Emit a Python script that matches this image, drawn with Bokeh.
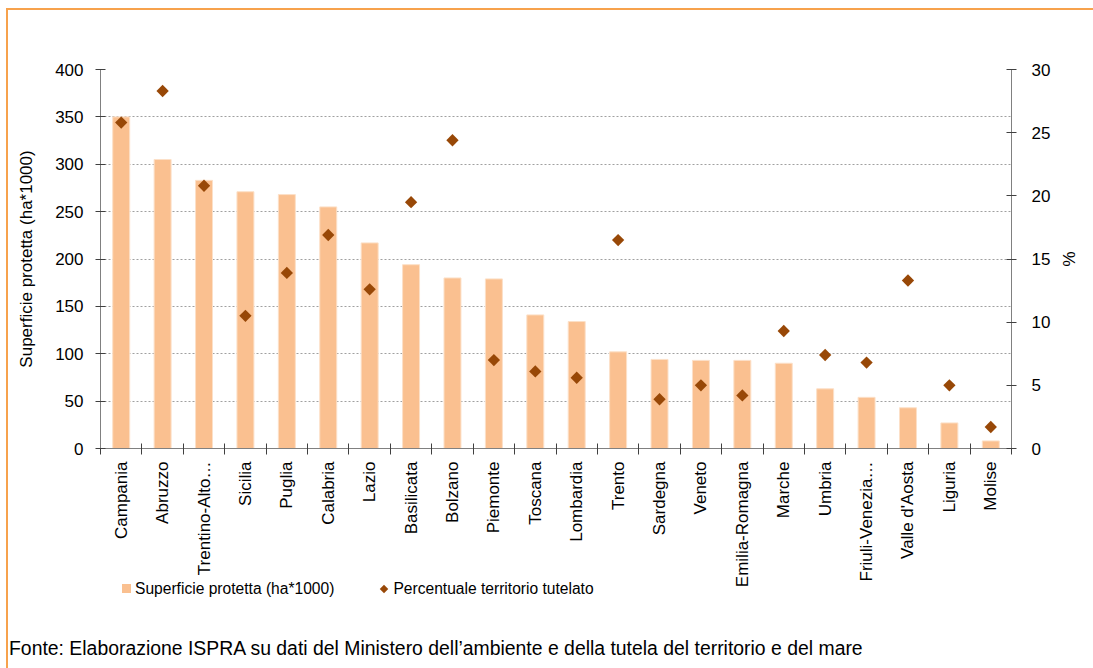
import math
import numpy as np
from bokeh.plotting import figure
from bokeh.layouts import column
from bokeh.models import (Range1d, LinearAxis, FixedTicker, CustomJSTickFormatter, Div)
from bokeh.embed import file_html
from bokeh.resources import INLINE

regions = ["Campania", "Abruzzo", "Trentino-Alto…", "Sicilia", "Puglia", "Calabria",
           "Lazio", "Basilicata", "Bolzano", "Piemonte", "Toscana", "Lombardia",
           "Trento", "Sardegna", "Veneto", "Emilia-Romagna", "Marche", "Umbria",
           "Friuli-Venezia…", "Valle d'Aosta", "Liguria", "Molise"]
superficie = [350, 305, 283, 271, 268, 255, 217, 194, 180, 179, 141, 134,
              102, 94, 93, 93, 90, 63, 54, 43, 27, 8]
percentuale = [25.8, 28.3, 20.8, 10.5, 13.9, 16.9, 12.6, 19.5, 24.4, 7.0, 6.1, 5.6,
               16.5, 3.9, 5.0, 4.2, 9.3, 7.4, 6.8, 13.3, 5.0, 1.7]
left_ticks = [0, 50, 100, 150, 200, 250, 300, 350, 400]
right_ticks = [0, 5, 10, 15, 20, 25, 30]
series_names = ["Superficie protetta (ha*1000)", "Percentuale territorio tutelato"]
footer_text = "Fonte: Elaborazione ISPRA su dati del Ministero dell\u2019ambiente e della tutela del territorio e del mare"

FONT = "Liberation Sans"
BAR_COLOR = "#FAC090"
PT_COLOR = "#984807"
n = len(regions)
xs = np.arange(n) + 0.5

p = figure(width=1085, height=581, x_range=Range1d(0, n), y_range=Range1d(0, 400),
           output_backend="svg", toolbar_location=None,
           min_border_left=92, min_border_right=82, min_border_top=59,
           min_border_bottom=143)
p.extra_y_ranges = {"pct": Range1d(0, 30)}
p.outline_line_color = None
p.background_fill_color = "white"
p.border_fill_color = "white"

# grid
p.xgrid.visible = False
p.ygrid.ticker = FixedTicker(ticks=left_ticks[1:])
p.ygrid.grid_line_color = "#a0a0a0"
p.ygrid.grid_line_dash = "2 2"
p.ygrid.grid_line_width = 1


def style_axis(ax):
    ax.axis_label_text_font = FONT
    ax.axis_label_text_font_size = "17px"
    ax.axis_label_text_font_style = "normal"
    ax.axis_label_text_color = "black"
    ax.major_label_text_font = FONT
    ax.major_label_text_font_size = "17px"
    ax.major_label_text_color = "black"
    ax.axis_line_color = "#808080"
    ax.major_tick_line_color = "#404040"
    ax.minor_tick_line_color = "#404040"


# left axis
ya = p.yaxis[0]
style_axis(ya)
ya.ticker = FixedTicker(ticks=left_ticks)
ya.axis_label = series_names[0]
ya.axis_label_standoff = 16
ya.major_label_standoff = 12
ya.major_tick_in = 5
ya.major_tick_out = 5
ya.minor_tick_in = 0
ya.minor_tick_out = 0

# right axis
ra = LinearAxis(y_range_name="pct", ticker=FixedTicker(ticks=right_ticks), axis_label="%")
style_axis(ra)
ra.axis_label_standoff = 6
ra.major_label_standoff = 15
ra.major_tick_in = 5
ra.major_tick_out = 5
ra.minor_tick_in = 0
ra.minor_tick_out = 0
p.add_layout(ra, "right")

# bottom axis
xa = p.xaxis[0]
style_axis(xa)
xa.ticker = FixedTicker(ticks=list(xs), minor_ticks=list(range(n + 1)))
xa.formatter = CustomJSTickFormatter(args=dict(labels=regions),
                                     code="const i = Math.round(tick - 0.5); return labels[i] || '';")
xa.major_label_orientation = math.pi / 2
xa.major_label_standoff = 7
xa.major_tick_in = 0
xa.major_tick_out = 0
xa.minor_tick_in = 5
xa.minor_tick_out = 6

bars = p.vbar(x=xs, top=superficie, width=0.41, fill_color=BAR_COLOR,
              line_color="#FCE0C8", line_width=1)
pts = p.scatter(x=xs, y=percentuale, y_range_name="pct", marker="square",
                angle=math.pi / 4, size=8.7, fill_color=PT_COLOR, line_color=None)

legend_html = (
    f'<div style="display:flex;align-items:center;white-space:nowrap;">'
    f'<span style="display:inline-block;width:9px;height:9px;background:{BAR_COLOR};margin-right:4px;"></span>'
    f'<span>{series_names[0]}</span>'
    f'<span style="display:inline-block;width:6px;height:6px;background:{PT_COLOR};'
    f'transform:rotate(45deg);margin-left:47px;margin-right:6px;"></span>'
    f'<span>{series_names[1]}</span></div>'
)
legend_div = Div(text=legend_html, width=1085, height=18,
                 styles={"font-family": FONT, "font-size": "15.6px", "color": "black",
                         "padding-left": "109px", "line-height": "18px",
                         "transform": "translateY(-17px)"})

footer = Div(text=footer_text, width=1085, height=70,
             styles={"font-family": FONT, "font-size": "19.4px", "color": "black",
                     "padding-top": "13px", "padding-left": "0px",
                     "white-space": "nowrap", "line-height": "23px",
                     "transform": "translateX(-4px)"})

root = column(p, legend_div, footer, spacing=0,
              styles={"border-top": "2px solid #F7A24C", "border-left": "2px solid #F7A24C",
                      "margin-top": "8px", "margin-left": "6px"})

open("out.html", "w").write(file_html(root, INLINE))
